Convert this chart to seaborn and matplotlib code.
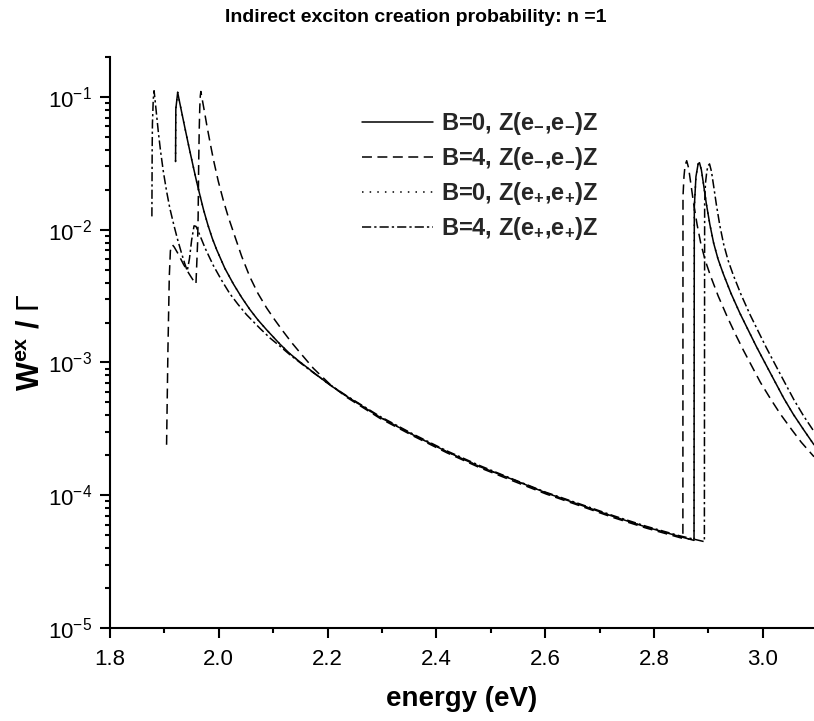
import matplotlib
matplotlib.use("Agg")
import matplotlib.pyplot as plt
from matplotlib import font_manager
from matplotlib.ticker import LogLocator, MultipleLocator, NullFormatter, FixedLocator
import seaborn as sns
import pandas as pd

# ---------------- data ----------------
# B=0, Z(e-,e-)Z  (B=0, Z(e+,e+)Z coincides with it)
x_b0 = [1.9205, 1.9210, 1.9244, 1.927, 1.931, 1.9378, 1.945, 1.953, 1.9585, 1.964,
        1.972, 1.980, 1.988, 1.996, 2.011, 2.027, 2.042, 2.057, 2.072, 2.088,
        2.112, 2.130, 2.149, 2.174, 2.2045, 2.235, 2.296, 2.357, 2.419, 2.480,
        2.541, 2.602, 2.664, 2.725, 2.786, 2.847, 2.8735, 2.8740, 2.877, 2.881,
        2.8835, 2.887, 2.891, 2.896, 2.9025, 2.9095, 2.9175, 2.927, 2.9415, 2.958,
        2.9735, 2.988, 3.0035, 3.019, 3.0385, 3.056, 3.0755, 3.094]
y_b0 = [0.0326, 0.0813, 0.1084, 0.0955, 0.0794, 0.0582, 0.0422, 0.0299, 0.0237, 0.0191,
        0.0141, 0.01084, 0.00861, 0.00708, 0.00513, 0.00389, 0.00309, 0.00251, 0.00209, 0.00176,
        0.00138, 0.00117, 0.00101, 8.41e-4, 6.76e-4, 5.56e-4, 3.87e-4, 2.85e-4, 2.13e-4, 1.64e-4,
        1.31e-4, 1.04e-4, 8.47e-5, 6.92e-5, 5.75e-5, 4.89e-5, 4.57e-5, 0.0148, 0.0251, 0.0313,
        0.0320, 0.0282, 0.0219, 0.0158, 0.0110, 0.00794, 0.00603, 0.00468, 0.00331, 0.00234,
        0.00174, 0.00132, 0.00100, 7.59e-4, 5.37e-4, 4.07e-4, 3.09e-4, 2.40e-4]

# B=4, Z(e-,e-)Z
x_b4m = [1.904, 1.9065, 1.909, 1.911, 1.913, 1.915, 1.918, 1.925, 1.935, 1.945,
         1.952, 1.958, 1.961, 1.962, 1.963, 1.964, 1.965, 1.966, 1.967, 1.9705,
         1.974, 1.978, 1.984, 1.990, 1.999, 2.008, 2.0175, 2.027, 2.042, 2.057,
         2.072, 2.088, 2.103, 2.118, 2.134, 2.149, 2.174, 2.2045, 2.235, 2.296,
         2.357, 2.419, 2.480, 2.541, 2.602, 2.664, 2.725, 2.786, 2.847, 2.853,
         2.8532, 2.855, 2.857, 2.860, 2.8635, 2.8675, 2.8725, 2.879, 2.886, 2.894,
         2.9035, 2.918, 2.9345, 2.950, 2.9645, 2.980, 2.9955, 3.015, 3.0325, 3.052,
         3.0705, 3.094]
y_b4m = [2.40e-4, 1.26e-3, 4.47e-3, 6.92e-3, 7.59e-3, 7.67e-3, 7.41e-3, 6.61e-3, 5.50e-3, 4.68e-3,
         4.22e-3, 3.91e-3, 7.94e-3, 0.0126, 0.0316, 0.0562, 0.0832, 0.102, 0.110, 0.0912,
         0.0759, 0.0610, 0.0452, 0.0339, 0.0232, 0.0168, 0.01245, 0.00955, 0.00631, 0.00442,
         0.00331, 0.00257, 0.00209, 0.00172, 0.00141, 0.00119, 9.02e-4, 6.84e-4, 5.47e-4, 3.80e-4,
         2.80e-4, 2.09e-4, 1.61e-4, 1.28e-4, 1.02e-4, 8.32e-5, 6.79e-5, 5.65e-5, 4.80e-5, 4.73e-5,
         0.0178, 0.0251, 0.0305, 0.0331, 0.0292, 0.0224, 0.0160, 0.0110, 0.00785, 0.00589,
         0.00452, 0.00316, 0.00221, 0.00162, 0.00123, 9.33e-4, 7.08e-4, 5.25e-4, 4.07e-4, 3.16e-4,
         2.51e-4, 1.95e-4]

# B=4, Z(e+,e+)Z
x_b4p = [1.877, 1.8775, 1.878, 1.8795, 1.881, 1.883, 1.886, 1.889, 1.893, 1.898,
         1.904, 1.910, 1.917, 1.924, 1.931, 1.937, 1.942, 1.946, 1.950, 1.9545,
         1.958, 1.962, 1.968, 1.975, 1.983, 1.990, 2.005, 2.020, 2.035, 2.051,
         2.063, 2.076, 2.094, 2.112, 2.130, 2.149, 2.174, 2.2045, 2.235, 2.296,
         2.357, 2.419, 2.480, 2.541, 2.602, 2.664, 2.725, 2.786, 2.847, 2.8925,
         2.8930, 2.8945, 2.897, 2.899, 2.902, 2.9055, 2.9095, 2.9145, 2.921, 2.928,
         2.936, 2.9455, 2.960, 2.9765, 2.992, 3.0065, 3.022, 3.0375, 3.057, 3.0745,
         3.094]
y_b4p = [0.0126, 0.0398, 0.0631, 0.0955, 0.1114, 0.0933, 0.0708, 0.0537, 0.0389, 0.0275,
         0.0195, 0.0145, 0.0110, 0.00851, 0.00676, 0.00562, 0.00490, 0.00603, 0.00832, 0.0107,
         0.0106, 0.00977, 0.00851, 0.00724, 0.00617, 0.00537, 0.00417, 0.00331, 0.00275, 0.00229,
         0.00204, 0.00180, 0.00153, 0.00133, 0.00115, 0.00100, 8.36e-4, 6.79e-4, 5.61e-4, 3.93e-4,
         2.89e-4, 2.16e-4, 1.67e-4, 1.32e-4, 1.05e-4, 8.59e-5, 7.02e-5, 5.83e-5, 4.95e-5, 4.47e-5,
         0.0158, 0.0224, 0.0275, 0.0302, 0.0313, 0.0275, 0.0214, 0.0155, 0.0107, 0.00776,
         0.00589, 0.00457, 0.00324, 0.00229, 0.00170, 0.00129, 9.77e-4, 7.41e-4, 5.25e-4, 3.98e-4,
         3.02e-4]

labels = [r"B=0, Z(e$_{\mathbf{-}}$,e$_{\mathbf{-}}$)Z",
          r"B=4, Z(e$_{\mathbf{-}}$,e$_{\mathbf{-}}$)Z",
          r"B=0, Z(e$_{\mathbf{+}}$,e$_{\mathbf{+}}$)Z",
          r"B=4, Z(e$_{\mathbf{+}}$,e$_{\mathbf{+}}$)Z"]
x_ticks = [1.8, 2.0, 2.2, 2.4, 2.6, 2.8, 3.0]
x_ticklabels = ["1.8", "2.0", "2.2", "2.4", "2.6", "2.8", "3.0"]
y_ticks = [1e-5, 1e-4, 1e-3, 1e-2, 1e-1]
y_ticklabels = [r"$10^{-5}$", r"$10^{-4}$", r"$10^{-3}$", r"$10^{-2}$", r"$10^{-1}$"]
title = "Indirect exciton creation probability: n =1"
xlabel = "energy (eV)"
ylabel = r"W$^{\mathbf{ex}}$ / $\Gamma$"

# ---------------- style ----------------
sns.set_theme(style="ticks")
avail = {f.name for f in font_manager.fontManager.ttflist}
fam = "Liberation Sans Narrow" if "Liberation Sans Narrow" in avail else "Liberation Sans"
plt.rcParams["font.family"] = [fam, "DejaVu Sans"]
plt.rcParams["mathtext.fontset"] = "custom"
plt.rcParams["mathtext.rm"] = fam
plt.rcParams["mathtext.bf"] = fam + ":bold"
plt.rcParams["mathtext.it"] = fam + ":italic"

fig = plt.figure(figsize=(8.14, 7.21), dpi=100)
ax = fig.add_axes([110 / 814, 1 - 628 / 721, 1 - 110 / 814, (628 - 57) / 721])

lw = 1.1
df_b0 = pd.DataFrame({"x": x_b0, "y": y_b0})
df_b4m = pd.DataFrame({"x": x_b4m, "y": y_b4m})
df_b4p = pd.DataFrame({"x": x_b4p, "y": y_b4p})

h = {}
sns.lineplot(data=df_b0, x="x", y="y", sort=False, estimator=None, ax=ax,
             color="black", lw=lw, linestyle=(0, (1.0, 4.0)), label=labels[2])
h[2] = ax.lines[-1]
sns.lineplot(data=df_b4m, x="x", y="y", sort=False, estimator=None, ax=ax,
             color="black", lw=lw, linestyle=(0, (6.5, 3.6)), label=labels[1])
h[1] = ax.lines[-1]
sns.lineplot(data=df_b4p, x="x", y="y", sort=False, estimator=None, ax=ax,
             color="black", lw=lw, linestyle=(0, (6.0, 2.0, 1.5, 2.0)), label=labels[3])
h[3] = ax.lines[-1]
sns.lineplot(data=df_b0, x="x", y="y", sort=False, estimator=None, ax=ax,
             color="black", lw=lw, linestyle="-", label=labels[0])
h[0] = ax.lines[-1]

ax.set_yscale("log")
ax.set_xlim(1.8, 3.094)
ax.set_ylim(1e-5, 0.2)

ax.xaxis.set_major_locator(FixedLocator(x_ticks))
ax.set_xticklabels(x_ticklabels)
ax.xaxis.set_minor_locator(MultipleLocator(0.1))
ax.yaxis.set_major_locator(FixedLocator(y_ticks))
ax.set_yticklabels(y_ticklabels)
ax.yaxis.set_minor_locator(LogLocator(base=10, subs=range(2, 10)))
ax.yaxis.set_minor_formatter(NullFormatter())

for s in ["top", "right"]:
    ax.spines[s].set_visible(False)
for s in ["left", "bottom"]:
    ax.spines[s].set_linewidth(1.5)
    ax.spines[s].set_color("black")

ax.tick_params(axis="both", which="major", direction="out", length=7, width=1.5,
               color="black", labelcolor="black")
ax.tick_params(axis="both", which="minor", direction="out", length=3.6, width=1.5,
               color="black")
ax.tick_params(axis="x", which="major", labelsize=16, pad=8)
ax.tick_params(axis="y", which="major", labelsize=16, pad=6)

ax.set_xlabel(xlabel, fontsize=20, fontweight="bold", labelpad=12, color="black")
ax.set_ylabel(ylabel, fontsize=22, fontweight="bold", labelpad=1, color="black")
fig.text(416 / 814, 1 - 18 / 721, title, ha="center", va="center",
         fontsize=14, fontweight="bold", color="black")

leg = ax.legend(handles=[h[0], h[1], h[2], h[3]], labels=labels,
                loc="upper left", bbox_to_anchor=((362 - 110) / 704, (628 - 110) / 571),
                frameon=False, borderpad=0, borderaxespad=0, handlelength=3.0,
                handletextpad=0.35, labelspacing=0.34,
                prop={"size": 17, "weight": "bold"})
for line in leg.get_lines():
    line.set_linewidth(lw)

ax.set_facecolor("white")
fig.patch.set_facecolor("white")
fig.savefig("out.png", dpi=100, facecolor="white")
